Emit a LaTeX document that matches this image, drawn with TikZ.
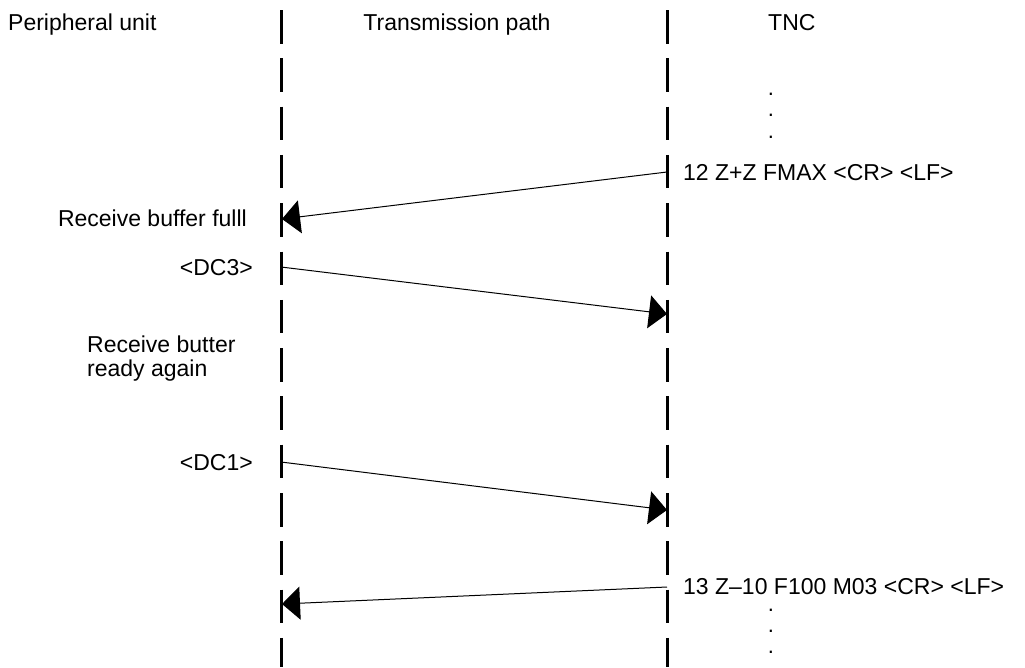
\documentclass[tikz,border=0pt]{standalone}
\usepackage{fontspec}
\setmainfont{Liberation Sans}
\usetikzlibrary{arrows.meta}
\begin{document}
\begin{tikzpicture}[x=1pt,y=-1pt,
  lbl/.style={inner sep=0pt,font=\fontsize{23}{24}\selectfont},
  lifeline/.style={line width=3pt,dash pattern=on 33.5pt off 14.8pt},
  msg/.style={line width=1pt,-{Triangle[length=18pt,width=33pt]}},
  dotlbl/.style={inner sep=0pt,anchor=base,font=\fontsize{22}{24}\selectfont}]
\useasboundingbox (0,0) rectangle (1025,667);
% lifelines
\coordinate (LT) at (281,10);
\coordinate (LB) at (281,667);
\coordinate (RT) at (667,10);
\coordinate (RB) at (667,667);
\draw[lifeline] (LT) -- (LB);
\draw[lifeline] (RT) -- (RB);
% headers
\node[lbl,anchor=base west] (hp) at (8,30) {Peripheral unit};
\node[lbl,anchor=base] (ht) at (457,30) {Transmission path};
\node[lbl,anchor=base west] (hn) at (768,30) {TNC};
% dots
\node[dotlbl] (d1) at (771,95) {.};
\node[dotlbl] (d2) at (771,116) {.};
\node[dotlbl] (d3) at (771,138) {.};
\node[dotlbl] (d4) at (771,611) {.};
\node[dotlbl] (d5) at (771,632) {.};
\node[dotlbl] (d6) at (771,653) {.};
% labels
\node[lbl,anchor=base west] (t12) at (683,180) {12 Z+Z FMAX <CR> <LF>};
\node[lbl,anchor=base east] (rbf) at (247,226) {Receive buffer fulll};
\node[lbl,anchor=base east] (dc3) at (253,275) {<DC3>};
\node[lbl,anchor=base west,align=left] (rbr) at (87,376) {Receive butter\\ready again};
\node[lbl,anchor=base east] (dc1) at (253,470) {<DC1>};
\node[lbl,anchor=base west] (t13) at (683,594) {13 Z–10 F100 M03 <CR> <LF>};
% message points
\coordinate (a1s) at (667,172);
\coordinate (a1e) at (282,219);
\coordinate (a2s) at (281,267);
\coordinate (a2e) at (667,314);
\coordinate (a3s) at (281,462);
\coordinate (a3e) at (667,510);
\coordinate (a4s) at (667,587);
\coordinate (a4e) at (282,604);
\draw[msg] (a1s) -- (a1e);
\draw[msg] (a2s) -- (a2e);
\draw[msg] (a3s) -- (a3e);
\draw[msg] (a4s) -- (a4e);
\end{tikzpicture}
\end{document}
